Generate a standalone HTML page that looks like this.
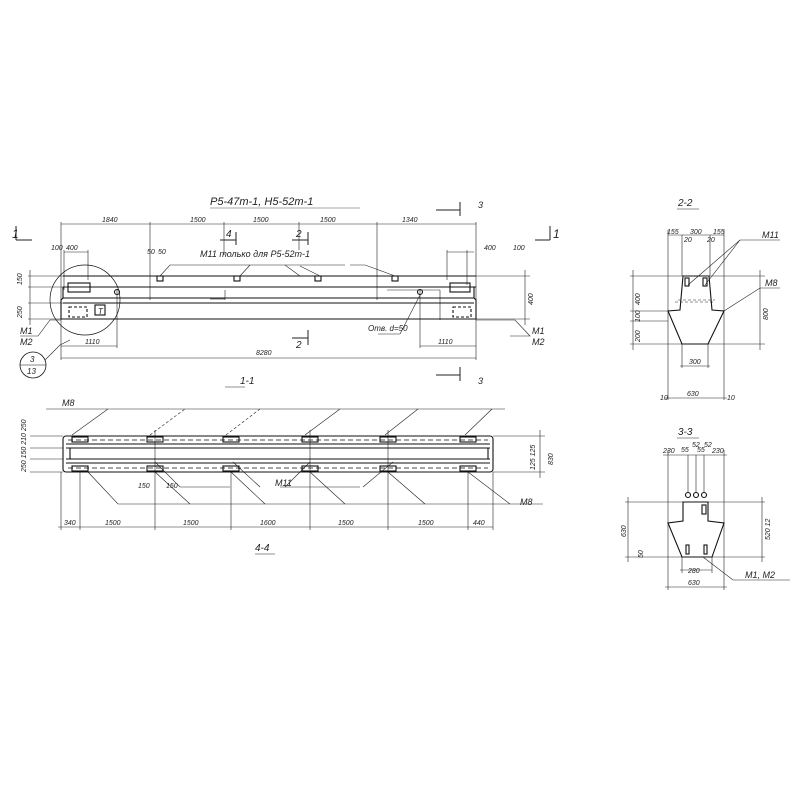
<!DOCTYPE html>
<html><head><meta charset="utf-8"><style>
html,body{margin:0;padding:0;background:#fff}
svg{display:block}
text{font-family:"Liberation Sans",sans-serif;font-style:italic;fill:#222}
</style></head><body>
<svg width="800" height="800" viewBox="0 0 800 800" xmlns="http://www.w3.org/2000/svg">
<g stroke="#222" fill="none" stroke-width="0.6">
<!-- ===== Elevation 1-1 ===== -->
<!-- extension lines -->
<line x1="61" y1="222" x2="61" y2="360"/>
<line x1="476" y1="222" x2="476" y2="360"/>
<line x1="150" y1="222" x2="150" y2="300"/>
<line x1="224" y1="222" x2="224" y2="255"/>
<line x1="299" y1="222" x2="299" y2="250"/>
<line x1="377" y1="222" x2="377" y2="300"/>
<line x1="61" y1="224" x2="476" y2="224"/>
<line x1="28" y1="276" x2="66" y2="276"/>
<line x1="28" y1="287" x2="66" y2="287"/>
<line x1="28" y1="303" x2="66" y2="303"/>
<line x1="28" y1="319" x2="66" y2="319"/>
<line x1="30" y1="270" x2="30" y2="325"/>
<line x1="476" y1="276" x2="530" y2="276"/>
<line x1="476" y1="319" x2="530" y2="319"/>
<line x1="525" y1="270" x2="525" y2="325"/>
<line x1="61" y1="358" x2="476" y2="358"/>
<line x1="61" y1="346" x2="117" y2="346"/>
<line x1="420" y1="346" x2="476" y2="346"/>
<line x1="117" y1="290" x2="117" y2="348"/>
<line x1="420" y1="290" x2="420" y2="348"/>
<line x1="64" y1="252" x2="88" y2="252"/>
<line x1="64" y1="250" x2="64" y2="290"/>
<line x1="88" y1="250" x2="88" y2="280"/>
<line x1="447" y1="252" x2="474" y2="252"/>
<line x1="447" y1="250" x2="447" y2="280"/>
<line x1="467" y1="250" x2="467" y2="285"/>
<line x1="440" y1="290" x2="440" y2="320"/>
<line x1="387" y1="290" x2="440" y2="290"/>
</g>
<g stroke="#111" fill="none" stroke-width="1.1">
<line x1="63" y1="276" x2="476" y2="276"/>
<line x1="63" y1="287" x2="476" y2="287"/>
<polyline points="63,287 63,298 61,300 61,319 476,319 476,300 474,298 474,287"/>
<line x1="63" y1="298" x2="474" y2="298"/>
<line x1="63" y1="303" x2="474" y2="303"/>
<rect x="68" y="283" width="22" height="9"/>
<rect x="450" y="283" width="20" height="9"/>
<rect x="95" y="305" width="10" height="10"/>
<rect x="157" y="276" width="6" height="5"/>
<rect x="234" y="276" width="6" height="5"/>
<rect x="315" y="276" width="6" height="5"/>
<rect x="392" y="276" width="6" height="5"/>
<rect x="69" y="307" width="18" height="10" stroke-dasharray="3,2"/>
<rect x="453" y="307" width="18" height="10" stroke-dasharray="3,2"/>
<circle cx="117" cy="292" r="2.5"/>
<circle cx="420" cy="292" r="2.5"/>
<circle cx="85" cy="300" r="35" stroke-width="0.7"/>
<circle cx="33" cy="365" r="13" stroke-width="0.8"/>
<line x1="20" y1="365" x2="46" y2="365" stroke-width="0.6"/>
</g>
<g stroke="#222" fill="none" stroke-width="0.6">
<polyline points="160,276 170,265 285,265 300,276"/>
<polyline points="240,276 250,265"/>
<polyline points="350,265 365,265 395,276"/>
<line x1="285" y1="265" x2="345" y2="265"/>
<polyline points="320,276 300,266"/>
<polyline points="20,336 38,336 50,320 61,320"/>
<polyline points="510,336 530,336 515,320 476,320"/>
<polyline points="45,360 60,345 70,340"/>
<polyline points="378,334 400,334 420,295"/>
<!-- section markers -->
<polyline points="16,240 16,226" stroke-width="1"/><line x1="16" y1="240" x2="32" y2="240" stroke-width="1"/>
<polyline points="550,240 550,226" stroke-width="1"/><line x1="535" y1="240" x2="550" y2="240" stroke-width="1"/>
<line x1="220" y1="240" x2="236" y2="240" stroke-width="1"/><line x1="236" y1="232" x2="236" y2="245" stroke-width="1"/>
<line x1="292" y1="240" x2="308" y2="240" stroke-width="1"/><line x1="308" y1="232" x2="308" y2="245" stroke-width="1"/>
<line x1="292" y1="338" x2="308" y2="338" stroke-width="1"/><line x1="308" y1="330" x2="308" y2="345" stroke-width="1"/>
<line x1="436" y1="210" x2="460" y2="210" stroke-width="1"/><line x1="460" y1="202" x2="460" y2="216" stroke-width="1"/>
<line x1="436" y1="375" x2="460" y2="375" stroke-width="1"/><line x1="460" y1="367" x2="460" y2="381" stroke-width="1"/>
<line x1="210" y1="299" x2="225" y2="299"/><line x1="225" y1="290" x2="225" y2="300"/>
<line x1="225" y1="387" x2="245" y2="387"/>
<line x1="210" y1="208" x2="360" y2="208" stroke-width="0.4"/>
</g>
<g font-size="7">
<text x="210" y="205" font-size="11">Р5-47т-1, Н5-52т-1</text>
<text x="102" y="222">1840</text><text x="190" y="222">1500</text><text x="253" y="222">1500</text><text x="320" y="222">1500</text><text x="402" y="222">1340</text>
<text x="12" y="238" font-size="12">1</text><text x="553" y="238" font-size="12">1</text>
<text x="226" y="237" font-size="10">4</text><text x="296" y="237" font-size="10">2</text><text x="296" y="348" font-size="10">2</text>
<text x="478" y="208" font-size="9">3</text><text x="478" y="384" font-size="9">3</text>
<text x="200" y="257" font-size="9">М11 только для Р5-52т-1</text>
<text x="66" y="250">400</text><text x="51" y="250">100</text><text x="484" y="250">400</text><text x="513" y="250">100</text>
<text x="147" y="254">50</text><text x="158" y="254">50</text>
<text x="22" y="285" transform="rotate(-90 22 285)">150</text>
<text x="22" y="318" transform="rotate(-90 22 318)">250</text>
<text x="533" y="305" transform="rotate(-90 533 305)">400</text>
<text x="20" y="334" font-size="9">М1</text><text x="20" y="345" font-size="9">М2</text>
<text x="532" y="334" font-size="9">М1</text><text x="532" y="345" font-size="9">М2</text>
<text x="85" y="344">1110</text><text x="438" y="344">1110</text><text x="256" y="355">8280</text>
<text x="368" y="331" font-size="8">Отв. d=50</text>
<text x="98" y="314" font-size="8">Т</text>
<text x="30" y="362" font-size="8">3</text><text x="27" y="374" font-size="8">13</text>
<text x="240" y="384" font-size="10">1-1</text>
</g>

<!-- ===== Plan 4-4 ===== -->
<g stroke="#222" fill="none" stroke-width="0.6">
<line x1="46" y1="409" x2="505" y2="409"/>
<line x1="72" y1="435" x2="108" y2="409"/><line x1="150" y1="435" x2="185" y2="409" stroke-dasharray="3,2"/><line x1="226" y1="435" x2="260" y2="409" stroke-dasharray="3,2"/>
<line x1="305" y1="435" x2="340" y2="409"/><line x1="385" y1="435" x2="418" y2="409"/><line x1="465" y1="435" x2="492" y2="409"/>
<polyline points="88,472 118,504 543,504"/>
<line x1="155" y1="472" x2="190" y2="504"/><line x1="231" y1="472" x2="265" y2="504"/><line x1="310" y1="472" x2="345" y2="504"/><line x1="388" y1="472" x2="425" y2="504"/><line x1="468" y1="472" x2="510" y2="504"/>
<polyline points="155,462 180,487 230,487"/><polyline points="233,462 260,487"/>
<line x1="280" y1="487" x2="360" y2="487"/><line x1="310" y1="462" x2="285" y2="487"/><polyline points="393,462 363,487"/>
<line x1="30" y1="436" x2="63" y2="436"/><line x1="30" y1="448" x2="63" y2="448"/><line x1="30" y1="459" x2="63" y2="459"/><line x1="30" y1="472" x2="63" y2="472"/>
<line x1="493" y1="436" x2="545" y2="436"/><line x1="493" y1="472" x2="545" y2="472"/><line x1="540" y1="430" x2="540" y2="478"/>
<line x1="58" y1="527" x2="493" y2="527"/>
<line x1="61" y1="472" x2="61" y2="530"/><line x1="80" y1="472" x2="80" y2="530"/><line x1="155" y1="430" x2="155" y2="530"/><line x1="231" y1="472" x2="231" y2="530"/><line x1="310" y1="430" x2="310" y2="530"/><line x1="388" y1="430" x2="388" y2="530"/><line x1="468" y1="472" x2="468" y2="530"/><line x1="493" y1="472" x2="493" y2="530"/>
<line x1="255" y1="554" x2="275" y2="554"/>
</g>
<g stroke="#111" fill="none" stroke-width="1.1">
<rect x="63" y="436" width="430" height="36" rx="3"/>
<line x1="66" y1="444" x2="490" y2="444"/><line x1="66" y1="448" x2="490" y2="448"/><line x1="66" y1="459" x2="490" y2="459"/><line x1="66" y1="463" x2="490" y2="463"/>
<line x1="68" y1="440" x2="488" y2="440" stroke-dasharray="5,3" stroke-width="0.8"/>
<line x1="68" y1="468" x2="488" y2="468" stroke-dasharray="5,3" stroke-width="0.8"/>
<rect x="72" y="437" width="16" height="5"/><rect x="72" y="466" width="16" height="5"/>
<rect x="147" y="437" width="16" height="5"/><rect x="147" y="466" width="16" height="5"/>
<rect x="223" y="437" width="16" height="5"/><rect x="223" y="466" width="16" height="5"/>
<rect x="302" y="437" width="16" height="5"/><rect x="302" y="466" width="16" height="5"/>
<rect x="380" y="437" width="16" height="5"/><rect x="380" y="466" width="16" height="5"/>
<rect x="460" y="437" width="16" height="5"/><rect x="460" y="466" width="16" height="5"/>
<line x1="70" y1="448" x2="70" y2="459"/><line x1="488" y1="448" x2="488" y2="459"/>
</g>
<g font-size="7">
<text x="62" y="406" font-size="9">М8</text>
<text x="520" y="505" font-size="9">М8</text>
<text x="275" y="486" font-size="9">М11</text>
<text x="138" y="488">150</text><text x="166" y="488">150</text>
<text x="26" y="472" transform="rotate(-90 26 472)">250 150 210 250</text>
<text x="553" y="465" transform="rotate(-90 553 465)">830</text>
<text x="535" y="470" transform="rotate(-90 535 470)">125 125</text>
<text x="64" y="525">340</text><text x="105" y="525">1500</text><text x="183" y="525">1500</text><text x="260" y="525">1600</text><text x="338" y="525">1500</text><text x="418" y="525">1500</text><text x="473" y="525">440</text>
<text x="255" y="551" font-size="10">4-4</text>
</g>

<!-- ===== Section 2-2 ===== -->
<g stroke="#222" fill="none" stroke-width="0.6">
<line x1="677" y1="209" x2="699" y2="209"/>
<line x1="668" y1="235" x2="724" y2="235"/>
<line x1="668" y1="230" x2="668" y2="400"/><line x1="724" y1="230" x2="724" y2="400"/>
<line x1="665" y1="398" x2="727" y2="398"/>
<line x1="630" y1="276" x2="683" y2="276"/><line x1="709" y1="276" x2="765" y2="276"/>
<line x1="630" y1="311" x2="668" y2="311"/><line x1="630" y1="321" x2="668" y2="321"/>
<line x1="630" y1="344" x2="765" y2="344"/>
<line x1="633" y1="270" x2="633" y2="350"/><line x1="760" y1="270" x2="760" y2="350"/>
<line x1="682" y1="344" x2="682" y2="368"/><line x1="708" y1="344" x2="708" y2="368"/>
<line x1="680" y1="366" x2="710" y2="366"/>
<polyline points="688,285 740,240 780,240"/><line x1="705" y1="285" x2="740" y2="240"/>
<polyline points="724,311 760,288 780,288"/>
<line x1="682" y1="235" x2="682" y2="276"/><line x1="710" y1="235" x2="710" y2="276"/>
<line x1="678" y1="300" x2="715" y2="300" stroke-dasharray="3,2"/>
<line x1="675" y1="302" x2="715" y2="302" stroke-dasharray="3,2"/>
</g>
<g stroke="#111" fill="none" stroke-width="1.1">
<polygon points="683,276 709,276 712,310 724,311 708,344 682,344 668,311 680,310"/>
<rect x="685" y="278" width="4" height="8"/><rect x="703" y="278" width="4" height="8"/>
</g>
<g font-size="7">
<text x="678" y="206" font-size="10">2-2</text>
<text x="667" y="234">155</text><text x="690" y="234">300</text><text x="713" y="234">155</text>
<text x="684" y="242">20</text><text x="707" y="242">20</text>
<text x="762" y="238" font-size="9">М11</text><text x="765" y="286" font-size="9">М8</text>
<text x="640" y="305" transform="rotate(-90 640 305)">400</text>
<text x="640" y="322" transform="rotate(-90 640 322)">100</text>
<text x="640" y="342" transform="rotate(-90 640 342)">200</text>
<text x="768" y="320" transform="rotate(-90 768 320)">800</text>
<text x="689" y="364">300</text><text x="687" y="396">630</text>
<text x="660" y="400">10</text><text x="727" y="400">10</text>
</g>

<!-- ===== Section 3-3 ===== -->
<g stroke="#222" fill="none" stroke-width="0.6">
<line x1="677" y1="438" x2="699" y2="438"/>
<line x1="663" y1="455" x2="727" y2="455"/>
<line x1="668" y1="450" x2="668" y2="590"/><line x1="724" y1="450" x2="724" y2="590"/>
<line x1="688" y1="455" x2="688" y2="493"/><line x1="696" y1="455" x2="696" y2="493"/><line x1="704" y1="455" x2="704" y2="493"/>
<line x1="625" y1="502" x2="683" y2="502"/><line x1="708" y1="502" x2="765" y2="502"/>
<line x1="625" y1="557" x2="765" y2="557"/>
<line x1="628" y1="497" x2="628" y2="562"/><line x1="762" y1="497" x2="762" y2="562"/>
<line x1="665" y1="587" x2="727" y2="587"/><line x1="680" y1="570" x2="712" y2="570"/>
<line x1="682" y1="557" x2="682" y2="573"/><line x1="712" y1="557" x2="712" y2="573"/>
<polyline points="703,557 733,580 790,580"/>
</g>
<g stroke="#111" fill="none" stroke-width="1.1">
<polygon points="683,502 708,502 708,521 724,523 712,557 682,557 668,523 683,521"/>
<circle cx="688" cy="495" r="2.5"/><circle cx="696" cy="495" r="2.5"/><circle cx="704" cy="495" r="2.5"/>
<rect x="702" y="505" width="4" height="9"/><rect x="686" y="545" width="3" height="9"/><rect x="704" y="545" width="3" height="9"/>
</g>
<g font-size="7">
<text x="678" y="435" font-size="10">3-3</text>
<text x="663" y="453">230</text><text x="681" y="452">55</text><text x="697" y="452">55</text><text x="712" y="453">230</text>
<text x="692" y="447">52</text><text x="704" y="447">52</text>
<text x="626" y="537" transform="rotate(-90 626 537)">630</text>
<text x="770" y="540" transform="rotate(-90 770 540)">520 12</text>
<text x="643" y="558" transform="rotate(-90 643 558)">50</text>
<text x="688" y="573">280</text><text x="688" y="585">630</text>
<text x="745" y="578" font-size="9">М1, М2</text>
</g>
</svg>
</body></html>
